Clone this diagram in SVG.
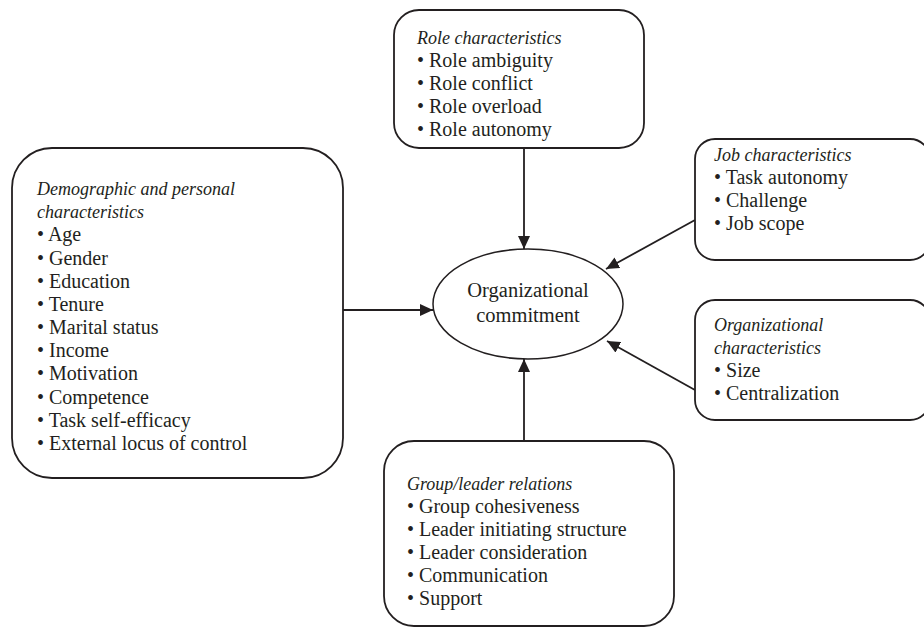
<svg xmlns="http://www.w3.org/2000/svg" width="924" height="627" viewBox="0 0 924 627">
<style>
.box{fill:#fff;stroke:#231f20;stroke-width:1.8}
.t{font-family:"Liberation Serif","Times New Roman",serif;font-size:20px;fill:#231f20}
.h{font-style:italic;font-size:18px}
.c{font-size:20.5px;text-anchor:middle}
.ln{stroke:#231f20;stroke-width:1.8;fill:none;marker-end:url(#ah)}
</style>
<defs>
<marker id="ah" markerUnits="userSpaceOnUse" markerWidth="14" markerHeight="12" refX="13" refY="6" orient="auto">
<path d="M0,0 L13,6 L0,12 Z" fill="#231f20"/>
</marker>
</defs>
<rect width="924" height="627" fill="#fff"/>
<g id="connectors">
<line class="ln" x1="524" y1="148" x2="524" y2="249"/>
<line class="ln" x1="343" y1="310" x2="433" y2="310"/>
<line class="ln" x1="524" y1="441" x2="524" y2="359"/>
<line class="ln" x1="695" y1="220" x2="606" y2="269"/>
<line class="ln" x1="695" y1="390" x2="607" y2="341"/>
</g>
<g id="role">
<rect class="box" x="394" y="10" width="250" height="138" rx="25"/>
<text class="t h" x="417" y="44">Role characteristics</text>
<text class="t" x="417" y="67">• Role ambiguity</text>
<text class="t" x="417" y="90">• Role conflict</text>
<text class="t" x="417" y="113">• Role overload</text>
<text class="t" x="417" y="136">• Role autonomy</text>
</g>
<g id="demographic">
<rect class="box" x="12" y="148" width="331" height="330" rx="40"/>
<text class="t h" x="37" y="195">Demographic and personal</text>
<text class="t h" x="37" y="218">characteristics</text>
<text class="t" x="37" y="241">• Age</text>
<text class="t" x="37" y="265">• Gender</text>
<text class="t" x="37" y="288">• Education</text>
<text class="t" x="37" y="311">• Tenure</text>
<text class="t" x="37" y="334">• Marital status</text>
<text class="t" x="37" y="357">• Income</text>
<text class="t" x="37" y="380">• Motivation</text>
<text class="t" x="37" y="404">• Competence</text>
<text class="t" x="37" y="427">• Task self-efficacy</text>
<text class="t" x="37" y="450">• External locus of control</text>
</g>
<g id="job">
<rect class="box" x="695" y="139" width="235" height="121" rx="20"/>
<text class="t h" x="714" y="161">Job characteristics</text>
<text class="t" x="714" y="184">• Task autonomy</text>
<text class="t" x="714" y="207">• Challenge</text>
<text class="t" x="714" y="230">• Job scope</text>
</g>
<g id="organizational">
<rect class="box" x="695" y="300" width="235" height="120" rx="20"/>
<text class="t h" x="714" y="331">Organizational</text>
<text class="t h" x="714" y="354">characteristics</text>
<text class="t" x="714" y="377">• Size</text>
<text class="t" x="714" y="400">• Centralization</text>
</g>
<g id="group">
<rect class="box" x="384" y="441" width="290" height="185" rx="30"/>
<text class="t h" x="407" y="490">Group/leader relations</text>
<text class="t" x="407" y="513">• Group cohesiveness</text>
<text class="t" x="407" y="536">• Leader initiating structure</text>
<text class="t" x="407" y="559">• Leader consideration</text>
<text class="t" x="407" y="582">• Communication</text>
<text class="t" x="407" y="605">• Support</text>
</g>
<g id="commitment">
<ellipse cx="528" cy="304" rx="95" ry="55" fill="#fff" stroke="#231f20" stroke-width="1.5"/>
<text class="t c" x="528" y="297">Organizational</text>
<text class="t c" x="528" y="322">commitment</text>
</g>
</svg>
